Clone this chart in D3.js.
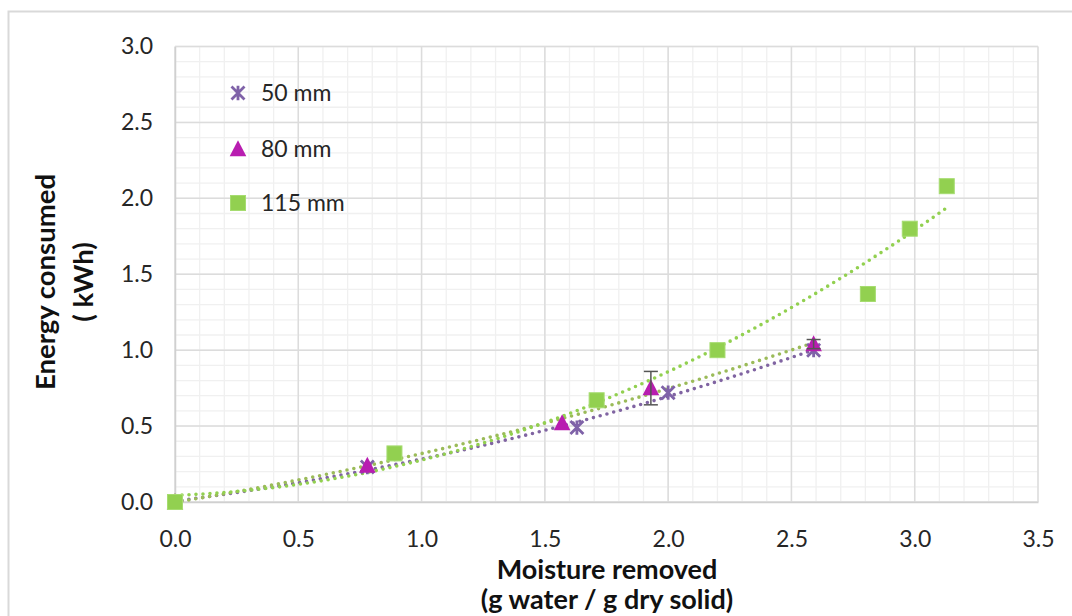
<!DOCTYPE html>
<html>
<head>
<meta charset="utf-8">
<script src="https://cdn.jsdelivr.net/npm/d3@7"></script>
<style>
  html, body { margin: 0; padding: 0; background: #fff; }
  svg { display: block; font-family: Lato, "Open Sans", sans-serif; }
</style>
</head>
<body>
<svg id="chart" width="1072" height="616"></svg>
<script>
// ---- data ----
const xTicks = [0.0, 0.5, 1.0, 1.5, 2.0, 2.5, 3.0, 3.5];
const yTicks = [0.0, 0.5, 1.0, 1.5, 2.0, 2.5, 3.0];

const seriesNames = ["50 mm", "80 mm", "115 mm"];

const x50 = [0.00, 0.78, 1.63, 2.00, 2.59];
const y50 = [0.00, 0.23, 0.49, 0.72, 1.00];

const x80 = [0.00, 0.78, 1.57, 1.93, 2.59];
const y80 = [0.00, 0.24, 0.52, 0.75, 1.04];
const err80 = [0.00, 0.00, 0.00, 0.11, 0.03];

const x115 = [0.00, 0.89, 1.71, 2.20, 2.81, 2.98, 3.13];
const y115 = [0.00, 0.32, 0.67, 1.00, 1.37, 1.80, 2.08];

const xTitle = ["Moisture removed", "(g water / g dry solid)"];
const yTitle = ["Energy consumed", "( kWh)"];

// ---- layout ----
const svg = d3.select("#chart");
const L = 175, R = 1038, T = 46.5, B = 502;
const x = d3.scaleLinear().domain([0, 3.5]).range([L, R]);
const y = d3.scaleLinear().domain([0, 3.0]).range([B, T]);

// outer chart border
svg.append("path")
  .attr("d", `M8.5,616 L8.5,11.5 L1072,11.5`)
  .attr("fill", "none").attr("stroke", "#d9d9d9").attr("stroke-width", 2);

// minor grid
const g = svg.append("g");
const minorX = d3.range(0, 3.5001, 0.1);
const minorY = d3.range(0, 3.0001, 0.1);
g.selectAll(".mx").data(minorX).join("line")
  .attr("x1", d => x(d)).attr("x2", d => x(d)).attr("y1", T).attr("y2", B)
  .attr("stroke", "#f0f0f0").attr("stroke-width", 1.3);
g.selectAll(".my").data(minorY).join("line")
  .attr("x1", L).attr("x2", R).attr("y1", d => y(d)).attr("y2", d => y(d))
  .attr("stroke", "#f0f0f0").attr("stroke-width", 1.3);
// major grid
g.selectAll(".MX").data(xTicks).join("line")
  .attr("x1", d => x(d)).attr("x2", d => x(d)).attr("y1", T).attr("y2", B)
  .attr("stroke", "#dcdcdc").attr("stroke-width", 1.5);
g.selectAll(".MY").data(yTicks).join("line")
  .attr("x1", L).attr("x2", R).attr("y1", d => y(d)).attr("y2", d => y(d))
  .attr("stroke", "#dcdcdc").attr("stroke-width", 1.5);

// axes (labels only, via d3 axes)
const xAxis = svg.append("g").attr("transform", `translate(0,${B})`)
  .call(d3.axisBottom(x).tickValues(xTicks).tickFormat(d3.format(".1f")).tickSize(0).tickPadding(28.5));
xAxis.select(".domain").attr("stroke", "#d0d0d0").attr("stroke-width", 1.5);
xAxis.selectAll("text").attr("font-size", 23).attr("fill", "#262626").attr("font-family", "Lato");

const yAxis = svg.append("g").attr("transform", `translate(${L},0)`)
  .call(d3.axisLeft(y).tickValues(yTicks).tickFormat(d3.format(".1f")).tickSize(0).tickPadding(22));
yAxis.select(".domain").attr("stroke", "#d0d0d0").attr("stroke-width", 1.5);
yAxis.selectAll("text").attr("font-size", 23).attr("fill", "#262626").attr("font-family", "Lato");

// axis titles
svg.append("g").selectAll("text").data(xTitle).join("text")
  .attr("x", 607).attr("y", (d, i) => 579 + i * 30)
  .attr("text-anchor", "middle").attr("font-weight", "bold")
  .attr("font-size", 27).attr("fill", "#111").text(d => d);

svg.append("g").selectAll("text").data(yTitle).join("text")
  .attr("transform", (d, i) => `translate(${55 + i * 38},282) rotate(-90)`)
  .attr("text-anchor", "middle").attr("font-weight", "bold")
  .attr("font-size", 27.5).attr("fill", "#111").text(d => d);

// ---- quadratic least-squares trendlines ----
function polyFit2(xs, ys) {
  const n = xs.length;
  let s = [0,0,0,0,0], t = [0,0,0];
  for (let i = 0; i < n; i++) {
    const a = xs[i], b = ys[i];
    s[0] += 1; s[1] += a; s[2] += a*a; s[3] += a*a*a; s[4] += a*a*a*a;
    t[0] += b; t[1] += a*b; t[2] += a*a*b;
  }
  const M = [[s[0], s[1], s[2], t[0]], [s[1], s[2], s[3], t[1]], [s[2], s[3], s[4], t[2]]];
  for (let c = 0; c < 3; c++) {
    let p = c;
    for (let r = c+1; r < 3; r++) if (Math.abs(M[r][c]) > Math.abs(M[p][c])) p = r;
    [M[c], M[p]] = [M[p], M[c]];
    for (let r = 0; r < 3; r++) {
      if (r === c) continue;
      const f = M[r][c] / M[c][c];
      for (let k = c; k < 4; k++) M[r][k] -= f * M[c][k];
    }
  }
  const coef = [M[0][3]/M[0][0], M[1][3]/M[1][1], M[2][3]/M[2][2]];
  return v => coef[0] + coef[1]*v + coef[2]*v*v;
}

const trends = [
  { xs: x50, ys: y50, color: "#8064A2" },
  { xs: x80, ys: y80, color: "#9BBB59" },
  { xs: x115, ys: y115, color: "#92D050" }
];
const line = d3.line().x(d => x(d[0])).y(d => y(d[1]));
trends.forEach(tr => {
  const f = polyFit2(tr.xs, tr.ys);
  const xmax = d3.max(tr.xs);
  const pts = d3.range(0, 101).map(i => { const v = xmax * i / 100; return [v, f(v)]; });
  svg.append("path").datum(pts).attr("d", line)
    .attr("fill", "none").attr("stroke", tr.color).attr("stroke-width", 3.6)
    .attr("stroke-linecap", "round").attr("stroke-dasharray", "0 7");
});

// ---- markers ----
const c50 = "#7F62A8", c80 = "#B81DB0", c115 = "#92D050";
function asterisk(sel, s) {
  const h = s / 2;
  sel.append("path")
    .attr("d", `M${-h},${-h}L${h},${h}M${-h},${h}L${h},${-h}M0,${-h*1.1}L0,${h*1.1}`)
    .attr("stroke", c50).attr("stroke-width", 2.8).attr("fill", "none");
}
function triangle(sel, s) {
  sel.append("path").attr("d", `M0,${-s*0.55}L${s*0.52},${s*0.45}L${-s*0.52},${s*0.45}Z`)
    .attr("fill", c80);
}
function square(sel, s) {
  sel.append("rect").attr("x", -s/2).attr("y", -s/2).attr("width", s).attr("height", s)
    .attr("fill", c115).attr("stroke", "#a6dc70").attr("stroke-width", 1);
}

const p50 = x50.map((v, i) => [v, y50[i]]);
const p80 = x80.map((v, i) => [v, y80[i], err80[i]]);
const p115 = x115.map((v, i) => [v, y115[i]]);

svg.append("g").selectAll("g").data(p50).join("g")
  .attr("transform", d => `translate(${x(d[0])},${y(d[1])})`)
  .each(function () { asterisk(d3.select(this), 13); });

svg.append("g").selectAll("g").data(p80).join("g")
  .attr("transform", d => `translate(${x(d[0])},${y(d[1])})`)
  .each(function () { triangle(d3.select(this), 16); });

// error bars for 80 mm
const eb = svg.append("g").attr("stroke", "#555").attr("stroke-width", 1.5);
p80.filter(d => d[2] > 0).forEach(d => {
  const cx = x(d[0]), y1 = y(d[1] + d[2]), y2 = y(d[1] - d[2]);
  eb.append("line").attr("x1", cx).attr("x2", cx).attr("y1", y1).attr("y2", y2);
  eb.append("line").attr("x1", cx - 7).attr("x2", cx + 7).attr("y1", y1).attr("y2", y1);
  eb.append("line").attr("x1", cx - 7).attr("x2", cx + 7).attr("y1", y2).attr("y2", y2);
});

svg.append("g").selectAll("g").data(p115).join("g")
  .attr("transform", d => `translate(${x(d[0])},${y(d[1])})`)
  .each(function () { square(d3.select(this), 15); });

// ---- legend ----
const legendY = [93, 149, 203];
const lg = svg.append("g");
const markFns = [s => asterisk(s, 13), s => triangle(s, 16), s => square(s, 15)];
seriesNames.forEach((name, i) => {
  const row = lg.append("g").attr("transform", `translate(238,${legendY[i]})`);
  markFns[i](row);
  row.append("text").attr("x", 23).attr("y", 0).attr("dy", "0.35em")
    .attr("font-size", 23).attr("fill", "#262626").text(name);
});
</script>
</body>
</html>
